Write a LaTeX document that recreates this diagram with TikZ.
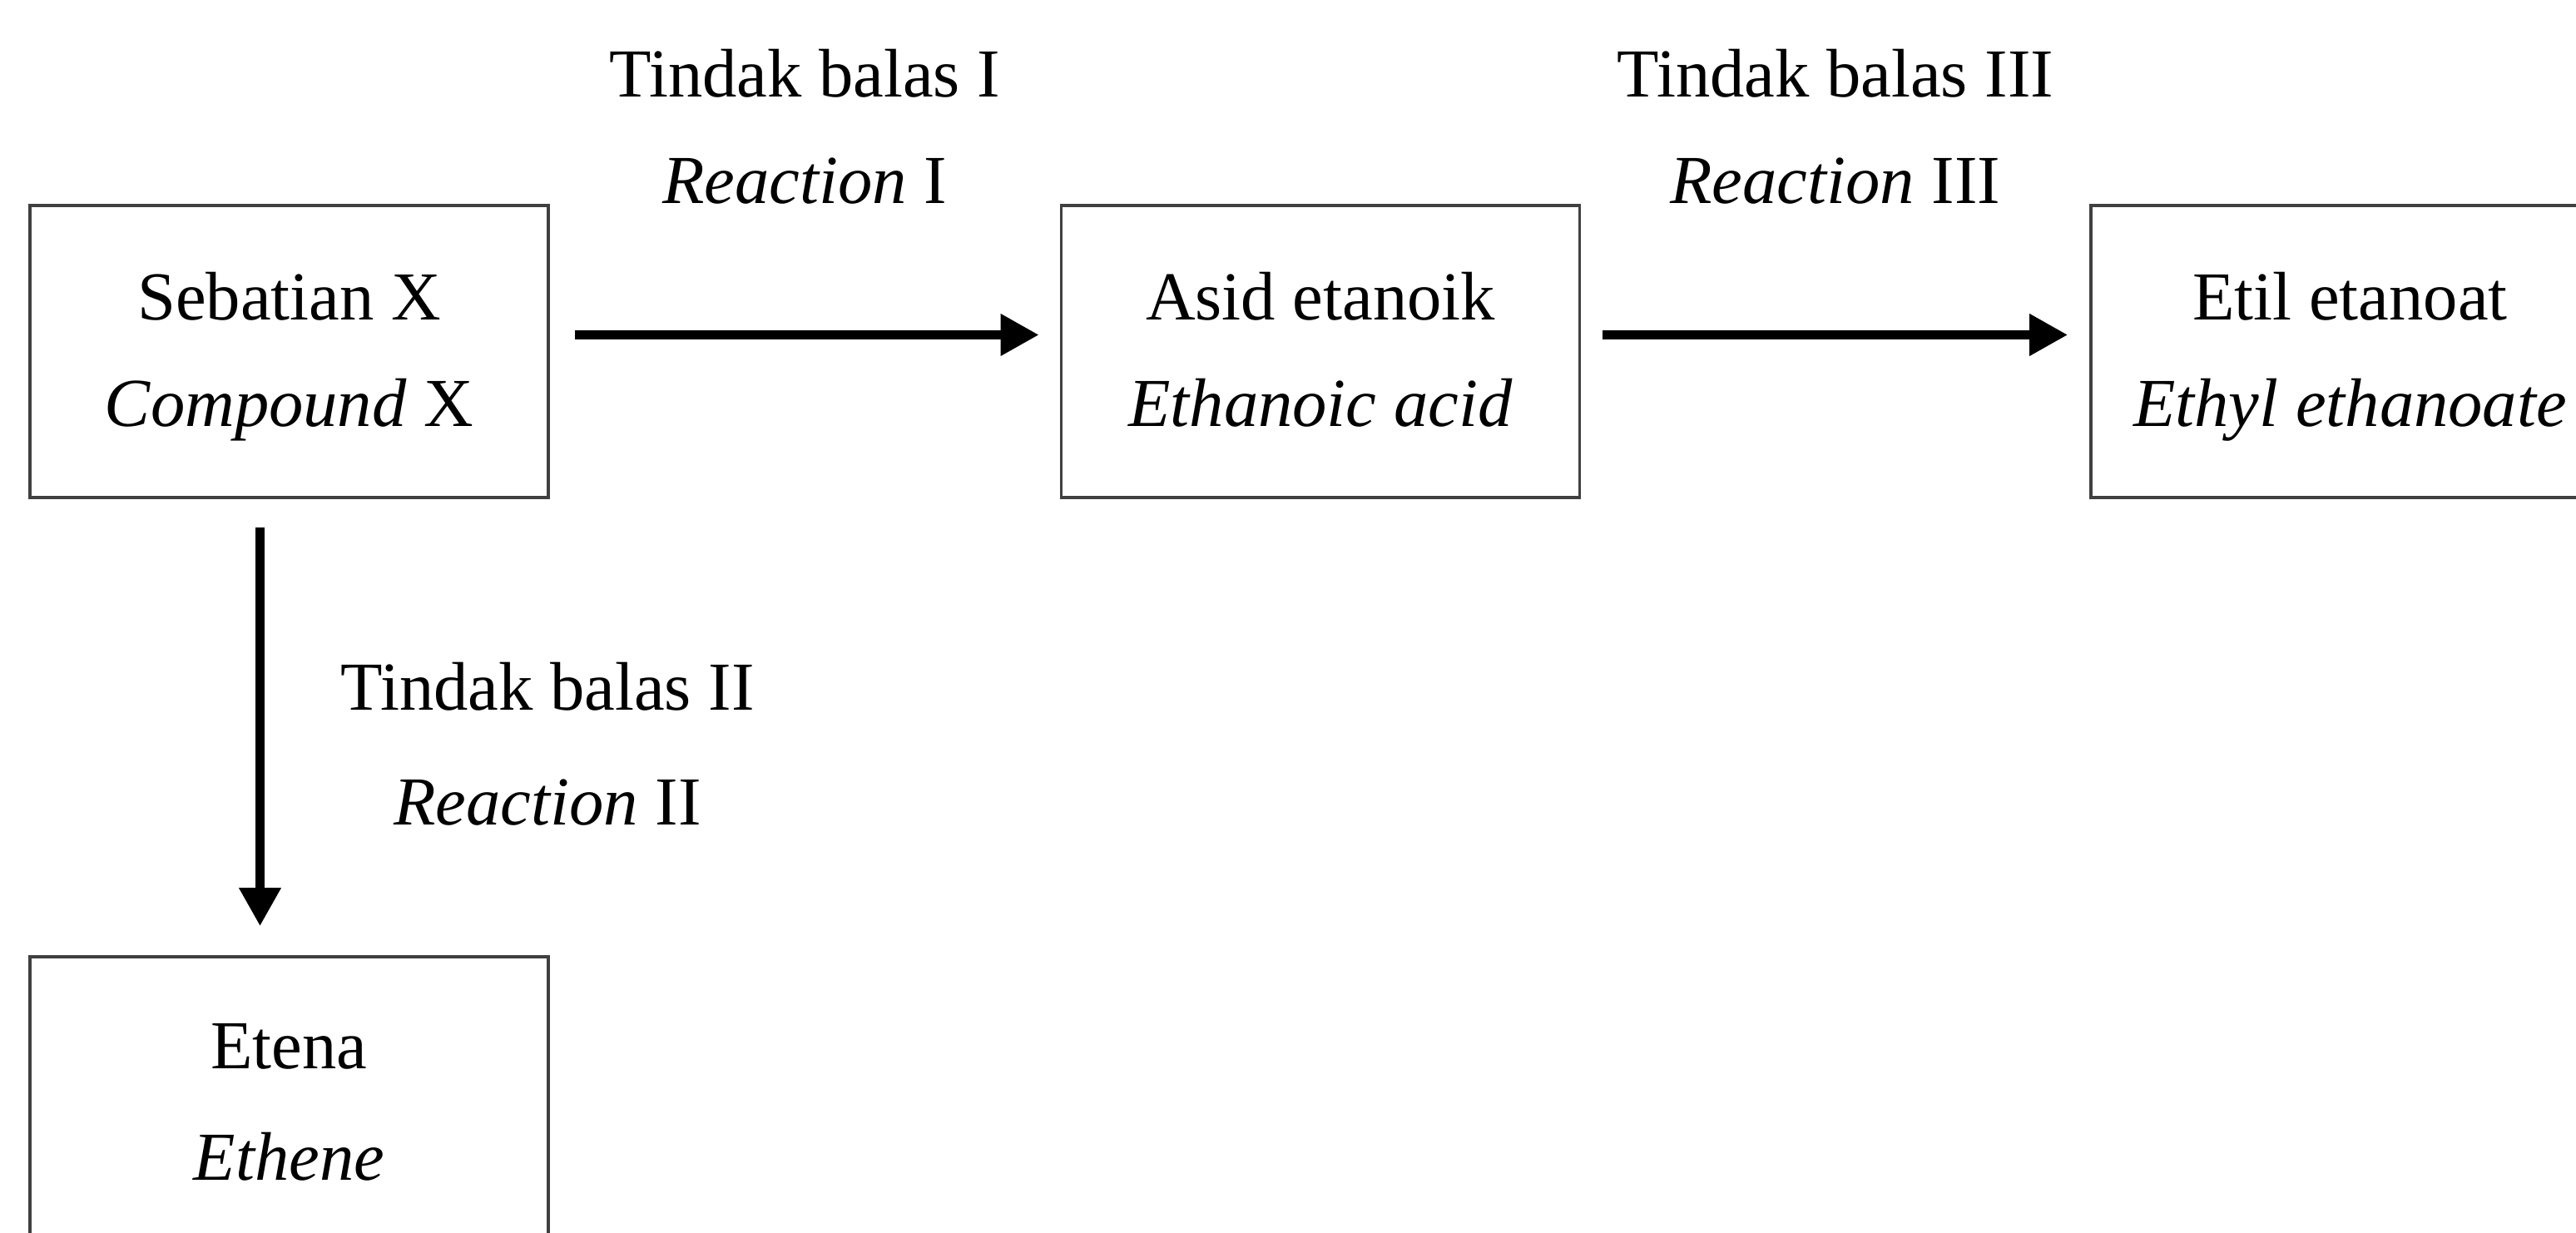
\documentclass[tikz,border=0pt]{standalone}
\usepackage{fontspec}
\setmainfont{Liberation Serif}
\usetikzlibrary{arrows.meta,positioning}
\begin{document}
\begin{tikzpicture}[
        every node/.style={font=\fontsize{23.5}{36.5}\selectfont},
        chembox/.style={draw=black!75, line width=1.1pt, minimum width=6.23cm, minimum height=3.51cm, align=center, inner sep=0pt},
        reactarrow/.style={line width=3pt, -{Triangle[length=4.6mm,width=4.8mm]}},
        reactlabel/.style={align=center}
    ]
        \useasboundingbox (0,0) rectangle (30.96,-14.82);
        \begin{scope}[every node/.append style={chembox}]
            \node (cpdX) at (3.475,-4.225) {\strut Sebatian X\\\strut\textit{Compound} X};
            \node (acid) at (15.87,-4.225) {\strut Asid etanoik\\\strut\textit{Ethanoic acid}};
            \node (ester) at (28.245,-4.225) {\strut Etil etanoat\\\strut\textit{Ethyl ethanoate}};
            \node (ethene) at (3.475,-13.255) {\strut Etena\\[0.06cm]\strut\textit{Ethene}};
        \end{scope}
        \draw[reactarrow, shorten <=0.3cm, shorten >=0.25cm] ([yshift=0.2cm]cpdX.east) -- node[reactlabel, yshift=2.5cm] (rI) {Tindak balas I\\\textit{Reaction} I} ([yshift=0.2cm]acid.west);
        \draw[reactarrow, shorten <=0.26cm, shorten >=0.26cm] ([yshift=0.2cm]acid.east) -- node[reactlabel, yshift=2.5cm] (rIII) {Tindak balas III\\\textit{Reaction} III} ([yshift=0.2cm]ester.west);
        \draw[reactarrow, shorten <=0.34cm, shorten >=0.35cm] ([xshift=-0.35cm]cpdX.south) -- node[reactlabel, right=0.8cm, yshift=-0.2cm] (rII) {Tindak balas II\\[0.1cm]\textit{Reaction} II} ([xshift=-0.35cm]ethene.north);
    \end{tikzpicture}
\end{document}
